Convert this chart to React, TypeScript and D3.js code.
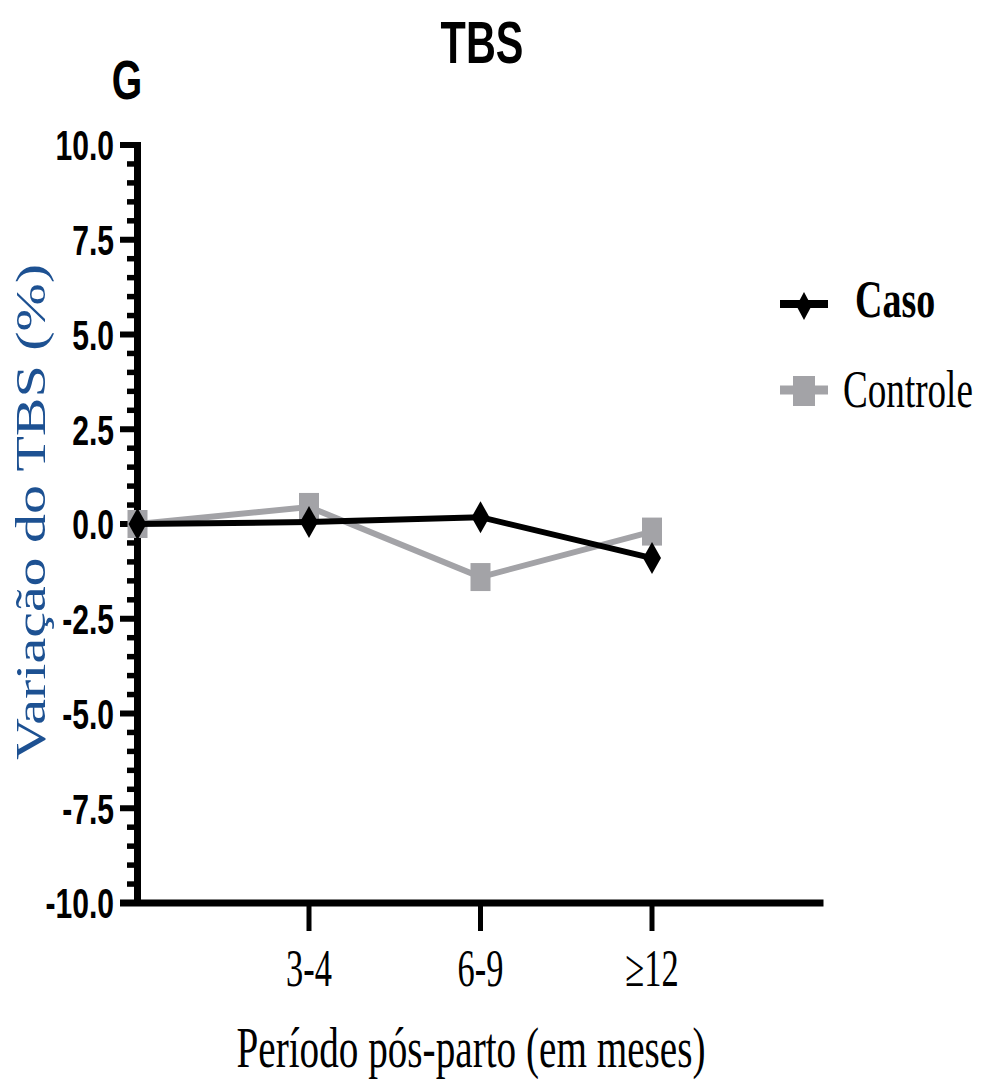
import React from 'react';
import * as d3 from 'd3';

// values
const periodos = ['0', '3-4', '6-9', '≥12'];
const xTickLabels = ['3-4', '6-9', '≥12'];
const caso = [0, 0.05, 0.18, -0.9];
const controle = [0, 0.45, -1.4, -0.2];
const yTicks = [-10, -7.5, -5, -2.5, 0, 2.5, 5, 7.5, 10];

const width = 983;
const height = 1083;

const sans = '"Liberation Sans", Arial, sans-serif';
const serif = '"Liberation Serif", "Times New Roman", serif';
const gray = '#a3a3a7';

const diamond = (w: number, h: number) => `M0,${-h / 2}L${w / 2},0L0,${h / 2}L${-w / 2},0Z`;

const App = () => {
  const x = d3.scaleLinear().domain([0, 4]).range([137.5, 823.5]);
  const y = d3.scaleLinear().domain([-10, 10]).range([903, 145]);
  const fmt = (v: number) => d3.format('.1f')(v).replace('−', '-');

  const minor = d3.range(-10, 10, 0.5).filter((v) => Math.abs(v / 2.5 - Math.round(v / 2.5)) > 1e-6);

  const line = d3
    .line<number>()
    .x((_, i) => x(i))
    .y((d) => y(d));

  return (
    <svg width={width} height={height} style={{ position: 'absolute', left: 0, top: 0, background: '#fff' }}>
      {/* title and panel letter */}
      <text transform={`translate(482,63) scale(0.69,1)`} textAnchor="middle" fontFamily={sans} fontWeight="bold" fontSize={60}>
        TBS
      </text>
      <text transform={`translate(127,99) scale(0.7,1)`} textAnchor="middle" fontFamily={sans} fontWeight="bold" fontSize={56}>
        G
      </text>

      {/* y axis */}
      <line x1={x(0)} x2={x(0)} y1={y(10) - 3} y2={y(-10) + 3} stroke="#000" strokeWidth={7} />
      {minor.map((v) => (
        <line key={'m' + v} x1={127} x2={x(0)} y1={y(v)} y2={y(v)} stroke="#000" strokeWidth={5.5} />
      ))}
      {yTicks.map((v) => (
        <g key={'t' + v}>
          <line x1={120} x2={x(0)} y1={y(v)} y2={y(v)} stroke="#000" strokeWidth={6} />
          <text
            transform={`translate(114,${y(v)}) scale(0.7,1)`}
            textAnchor="end"
            dy="0.36em"
            fontFamily={sans}
            fontWeight="bold"
            fontSize={43}
          >
            {fmt(v)}
          </text>
        </g>
      ))}

      {/* x axis */}
      <line x1={120} x2={x(4)} y1={y(-10)} y2={y(-10)} stroke="#000" strokeWidth={7} />
      {xTickLabels.map((t, i) => (
        <g key={t}>
          <line x1={x(i + 1)} x2={x(i + 1)} y1={y(-10)} y2={y(-10) + 28} stroke="#000" strokeWidth={5} />
          <text
            transform={`translate(${x(i + 1)},986) scale(0.65,1)`}
            textAnchor="middle"
            fontFamily={serif}
            fontSize={53}
          >
            {t}
          </text>
        </g>
      ))}

      {/* axis titles */}
      <text transform={`translate(471,1067) scale(0.7,1)`} textAnchor="middle" fontFamily={serif} fontSize={56}>
        Período pós-parto (em meses)
      </text>
      <text
        transform={`translate(45,512) rotate(-90) scale(1.38,1)`}
        textAnchor="middle"
        fontFamily={serif}
        fontSize={42}
        fill="#1d5192"
      >
        Variação do TBS (%)
      </text>

      {/* series */}
      <path d={line(controle) || ''} fill="none" stroke={gray} strokeWidth={6} />
      {controle.map((v, i) => (
        <rect key={'c' + periodos[i]} x={x(i) - 10} y={y(v) - 14} width={20} height={28} fill={gray} />
      ))}
      <path d={line(caso) || ''} fill="none" stroke="#000" strokeWidth={6} />
      {caso.map((v, i) => (
        <path key={'k' + periodos[i]} transform={`translate(${x(i)},${y(v)})`} d={diamond(18, 32)} fill="#000" />
      ))}

      {/* legend */}
      <line x1={780} x2={828} y1={304} y2={304} stroke="#000" strokeWidth={8} />
      <path transform="translate(804,306)" d={diamond(15, 28)} fill="#000" />
      <text transform="translate(855,317) scale(0.73,1)" fontFamily={serif} fontWeight="bold" fontSize={52}>
        Caso
      </text>
      <line x1={780} x2={828} y1={390} y2={390} stroke={gray} strokeWidth={9} />
      <rect x={793} y={376} width={22} height={30} fill={gray} />
      <text transform="translate(843,407) scale(0.714,1)" fontFamily={serif} fontSize={52}>
        Controle
      </text>
    </svg>
  );
};

export default App;
